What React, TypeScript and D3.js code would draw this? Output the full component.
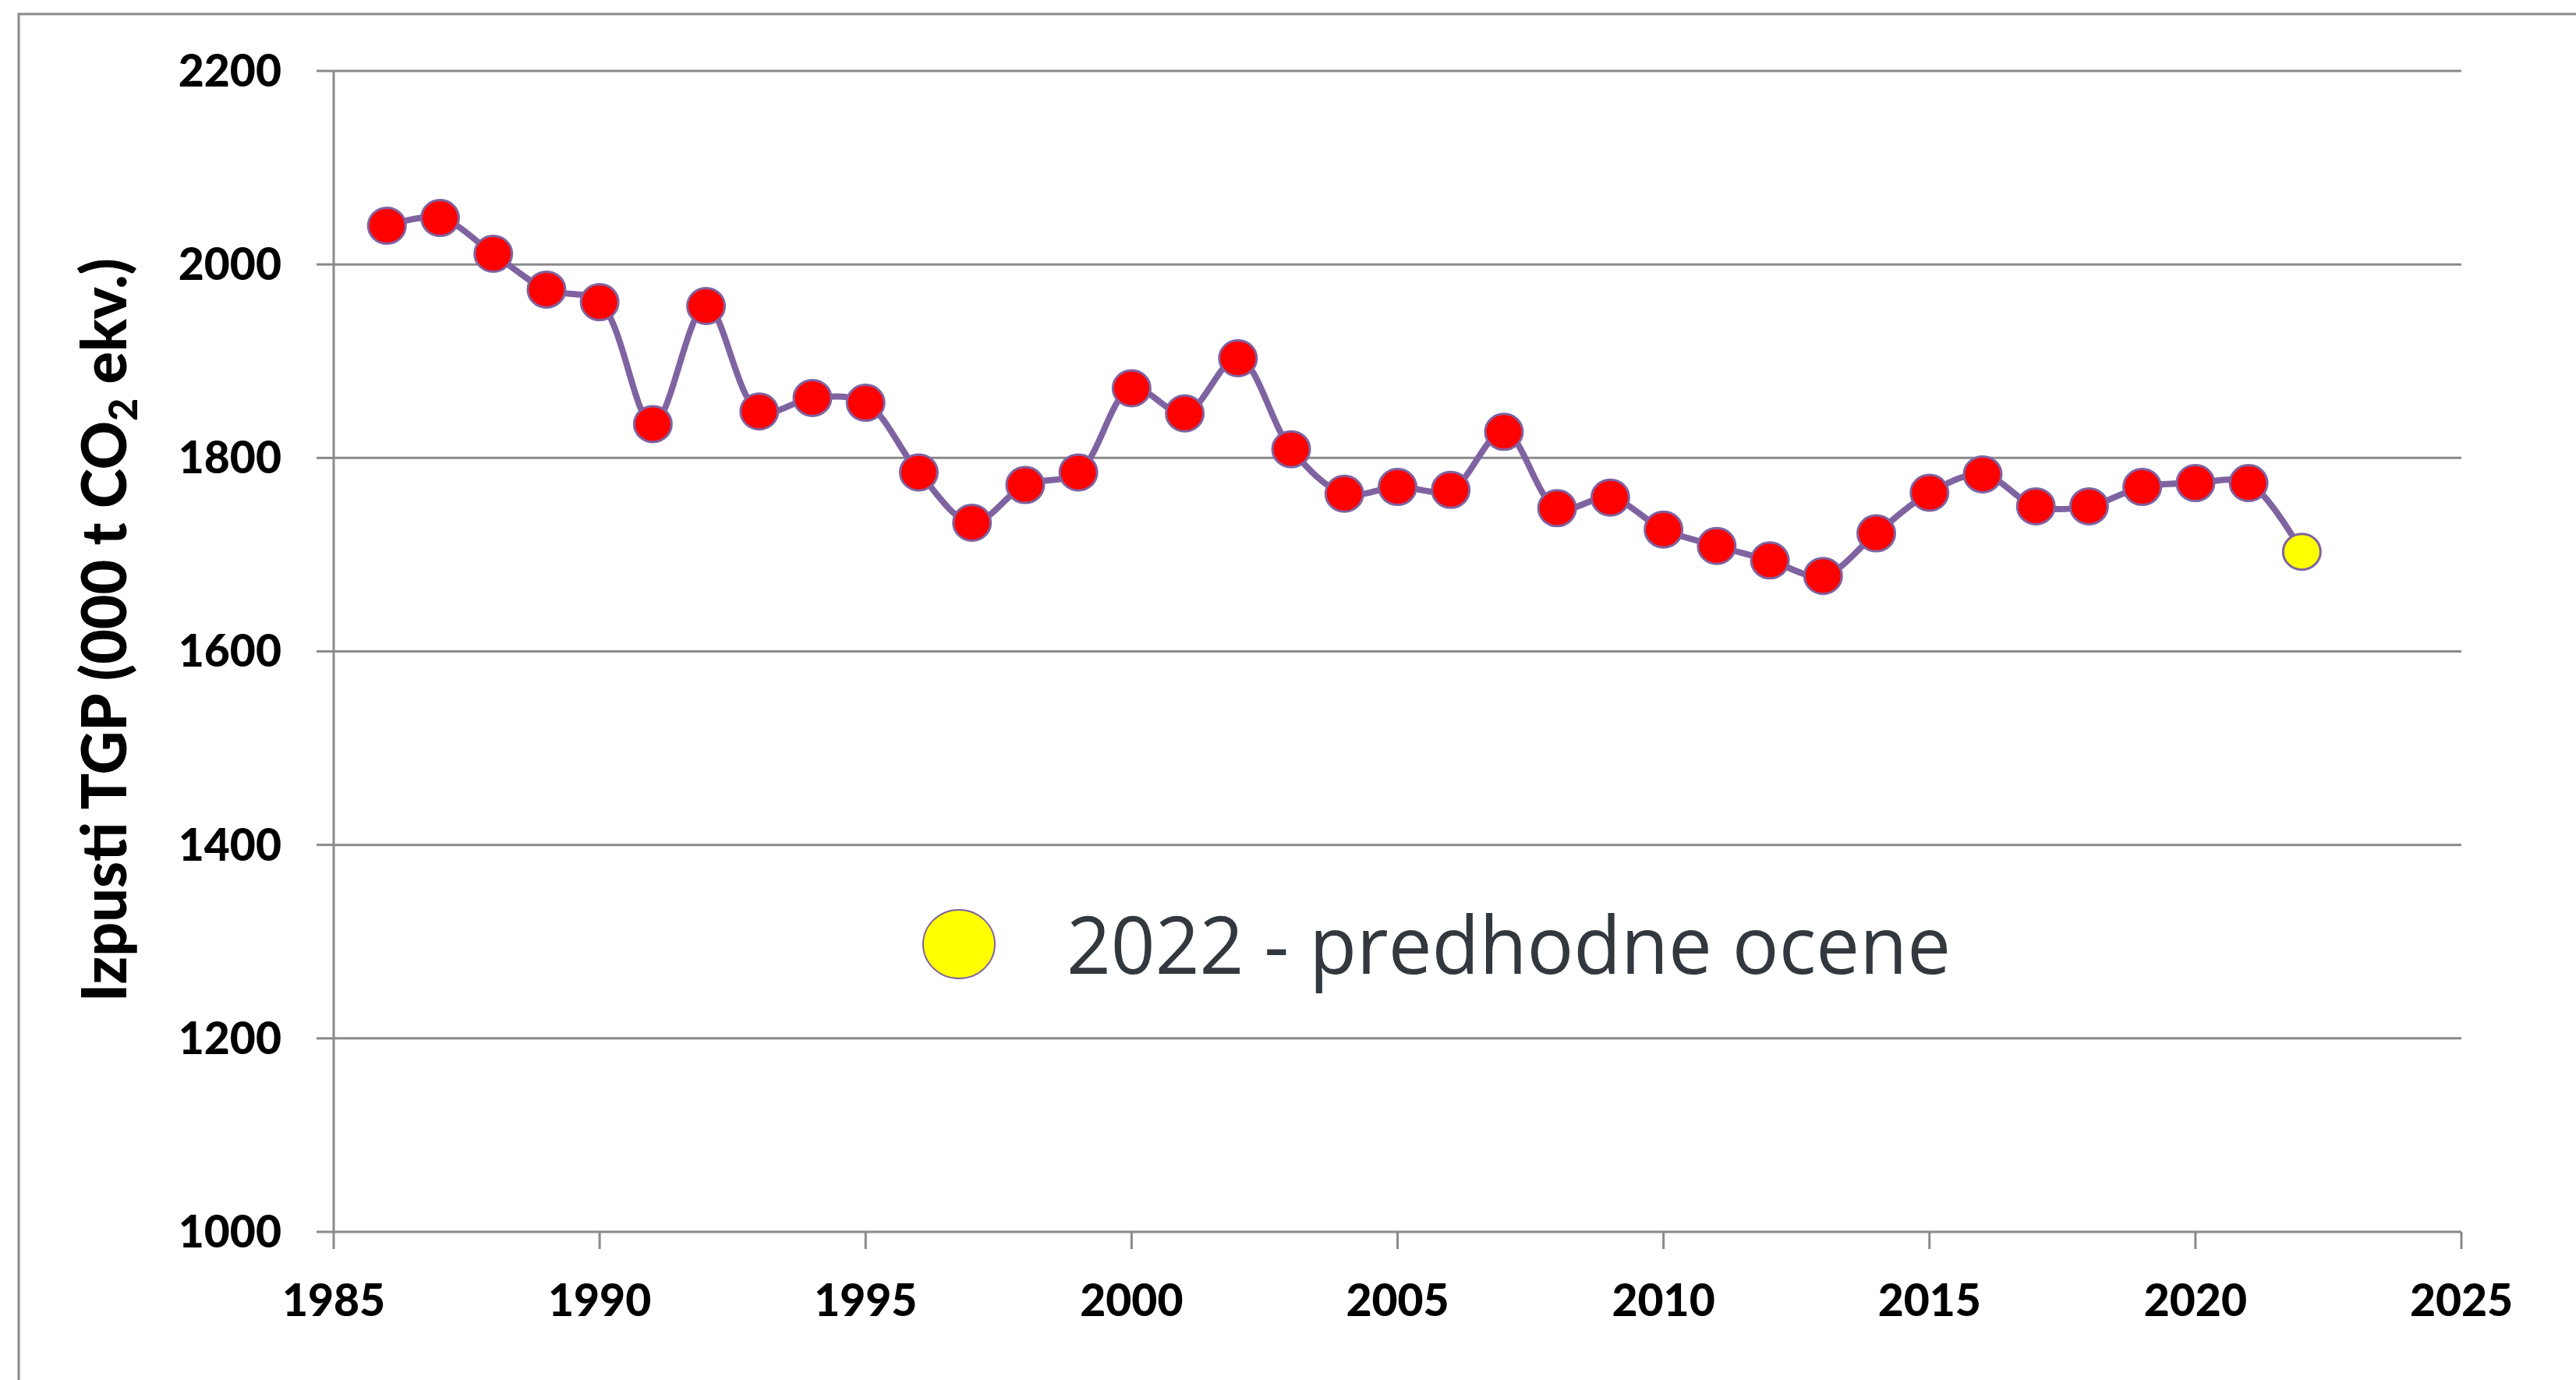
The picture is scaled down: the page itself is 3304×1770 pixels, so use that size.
import React from "react";
import * as d3 from "d3";

// Izpusti TGP po letih, 2022 = predhodna ocena (rumena točka)
const years = [
  1986, 1987, 1988, 1989, 1990, 1991, 1992, 1993, 1994, 1995, 1996, 1997, 1998,
  1999, 2000, 2001, 2002, 2003, 2004, 2005, 2006, 2007, 2008, 2009, 2010, 2011,
  2012, 2013, 2014, 2015, 2016, 2017, 2018, 2019, 2020, 2021, 2022,
];
const emissions = [
  2040, 2048, 2011, 1974, 1961, 1835, 1957, 1848, 1862, 1857, 1785, 1733, 1772,
  1785, 1872, 1846, 1903, 1809, 1763, 1770, 1767, 1827, 1748, 1759, 1726, 1709,
  1694, 1678, 1722, 1764, 1783, 1750, 1750, 1770, 1774, 1774, 1703,
];
const preliminaryYears = [2022];
const xTickValues = [1985, 1990, 1995, 2000, 2005, 2010, 2015, 2020, 2025];
const yTickValues = [1000, 1200, 1400, 1600, 1800, 2000, 2200];
const legendLabel = "2022 - predhodne ocene";

const W = 3304;
const H = 1770;
const GRID = "#8a8a8a";
const LINE = "#7f63a1";

export default function App() {
  const x = d3.scaleLinear().domain([1985, 2025]).range([428, 3157]);
  const y = d3.scaleLinear().domain([1000, 2200]).range([1580, 91]);

  const pts = years.map((yr, i) => ({ yr, v: emissions[i] }));
  const path = d3
    .line<{ yr: number; v: number }>()
    .x((d) => x(d.yr))
    .y((d) => y(d.v))
    .curve(d3.curveCatmullRom.alpha(0.5))(pts);

  const [x0, x1] = x.range();
  const [yBottom] = y.range();

  return (
    <svg
      width={W}
      height={H}
      style={{ position: "absolute", left: 0, top: 0, background: "#fff" }}
    >
      <rect x={24} y={18} width={W} height={H} fill="none" stroke={GRID} strokeWidth={3} />

      {/* gridlines + y ticks */}
      {yTickValues.map((t) => (
        <g key={t}>
          <line x1={x0} x2={x1} y1={y(t)} y2={y(t)} stroke={GRID} strokeWidth={3} />
          <line x1={x0 - 22} x2={x0} y1={y(t)} y2={y(t)} stroke={GRID} strokeWidth={3} />
          <text
            x={361}
            y={y(t)}
            dy="0.35em"
            textAnchor="end"
            fontFamily="Lato, 'Open Sans', sans-serif"
            fontWeight={900}
            fontSize={57}
            fill="#000"
          >
            {t}
          </text>
        </g>
      ))}

      {/* y axis line */}
      <line x1={x0} x2={x0} y1={y(2200)} y2={yBottom} stroke={GRID} strokeWidth={3} />

      {/* x ticks */}
      {xTickValues.map((t) => (
        <g key={t}>
          <line x1={x(t)} x2={x(t)} y1={yBottom} y2={yBottom + 22} stroke={GRID} strokeWidth={3} />
          <text
            x={x(t)}
            y={1688}
            textAnchor="middle"
            fontFamily="Lato, 'Open Sans', sans-serif"
            fontWeight={900}
            fontSize={57}
            fill="#000"
          >
            {t}
          </text>
        </g>
      ))}

      {/* y axis title */}
      <text
        transform="translate(162,808) rotate(-90)"
        textAnchor="middle"
        fontFamily="Lato, 'Open Sans', sans-serif"
        fontWeight={900}
        fontSize={80}
        fill="#000"
        textLength={954}
        lengthAdjust="spacingAndGlyphs"
      >
        Izpusti TGP (000 t CO
        <tspan fontSize={52} dy={14}>2</tspan>
        <tspan dy={-14}> ekv.)</tspan>
      </text>

      {/* series */}
      <path d={path ?? ""} fill="none" stroke={LINE} strokeWidth={8} strokeLinejoin="round" />
      {pts.map((d) => (
        <ellipse
          key={d.yr}
          cx={x(d.yr)}
          cy={y(d.v)}
          rx={24}
          ry={23}
          fill={preliminaryYears.includes(d.yr) ? "#ffff00" : "#ff0000"}
          stroke={LINE}
          strokeWidth={3}
        />
      ))}

      {/* legend */}
      <ellipse cx={1230} cy={1211} rx={46} ry={44} fill="#ffff00" stroke={LINE} strokeWidth={2} />
      <text
        x={1368}
        y={1249}
        fontFamily="'Open Sans', Lato, sans-serif"
        fontSize={102}
        fill="#32383d"
        textLength={1134}
        lengthAdjust="spacingAndGlyphs"
      >
        {legendLabel}
      </text>
    </svg>
  );
}
